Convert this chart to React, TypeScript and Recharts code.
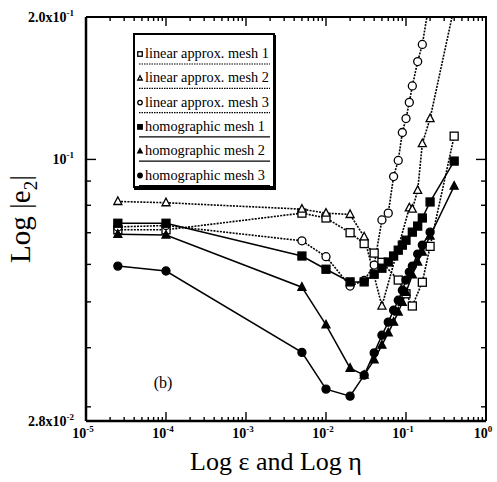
import { Label, Legend, Line, LineChart, XAxis, YAxis } from "recharts";

const W = 497;
const H = 482;

// values (x = epsilon/eta, y = |e2|)
const linear1X = [2.5e-5, 1e-4, 5e-3, 1e-2, 2e-2, 3e-2, 4e-2, 5e-2, 8e-2, 0.1, 0.12, 0.16, 0.2, 0.4];
const linear1Y = [0.071, 0.071, 0.077, 0.0752, 0.07, 0.0664, 0.0634, 0.0606, 0.0556, 0.052, 0.049, 0.055, 0.0655, 0.112];

const linear2X = [2.5e-5, 1e-4, 5e-3, 1e-2, 2e-2, 3e-2, 5e-2, 0.11, 0.12, 0.14, 0.16, 0.2, 0.4];
const linear2Y = [0.0815, 0.081, 0.0785, 0.077, 0.0765, 0.0686, 0.049, 0.079, 0.0785, 0.086, 0.108, 0.122, 0.21];

const linear3X = [2.5e-5, 1e-4, 5e-3, 1e-2, 2e-2, 3e-2, 4e-2, 5e-2, 6e-2, 7e-2, 8e-2, 9e-2, 0.1, 0.11, 0.12, 0.14, 0.16, 0.2];
const linear3Y = [0.072, 0.0725, 0.0673, 0.0623, 0.054, 0.0555, 0.0598, 0.0745, 0.077, 0.092, 0.0995, 0.114, 0.122, 0.132, 0.143, 0.161, 0.175, 0.22];

const homog1X = [2.5e-5, 1e-4, 5e-3, 1e-2, 2e-2, 3e-2, 4e-2, 5e-2, 6e-2, 7e-2, 8e-2, 9e-2, 0.1, 0.12, 0.14, 0.16, 0.2, 0.4];
const homog1Y = [0.0733, 0.0733, 0.0625, 0.0586, 0.0551, 0.0551, 0.0572, 0.0589, 0.0607, 0.0625, 0.0643, 0.0659, 0.0675, 0.0702, 0.0723, 0.0752, 0.0813, 0.0992];

const homog2X = [2.5e-5, 1e-4, 5e-3, 1e-2, 2e-2, 3e-2, 4e-2, 5e-2, 6e-2, 7e-2, 8e-2, 9e-2, 0.1, 0.12, 0.14, 0.16, 0.2, 0.4];
const homog2Y = [0.0695, 0.0692, 0.0537, 0.0447, 0.0362, 0.035, 0.0377, 0.0405, 0.043, 0.0453, 0.0476, 0.0499, 0.0524, 0.057, 0.0607, 0.0637, 0.0689, 0.0878];

const homog3X = [2.5e-5, 1e-4, 5e-3, 1e-2, 2e-2, 3e-2, 4e-2, 5e-2, 6e-2, 7e-2, 8e-2, 9e-2, 0.1, 0.11, 0.12, 0.14, 0.16, 0.2];
const homog3Y = [0.0595, 0.0581, 0.0391, 0.0327, 0.0316, 0.035, 0.039, 0.0425, 0.0453, 0.048, 0.0504, 0.0529, 0.0556, 0.0578, 0.0595, 0.0631, 0.0659, 0.0702];

// axis ticks
const decades = [1e-5, 1e-4, 1e-3, 1e-2, 1e-1, 1];
const decadeExps = ["-5", "-4", "-3", "-2", "-1", "0"];
const minorSteps = [2, 3, 4, 5, 6, 7, 8, 9];
const yLabelValues = [0.2, 0.1, 0.028];
const yLabelBases = ["2.0x10", "10", "2.8x10"];
const yLabelExps = ["-1", "-1", "-2"];
const yMinorTicks = [0.03, 0.04, 0.05, 0.06, 0.07, 0.08, 0.09];

const X_DOMAIN = [1e-5, 1];
const Y_DOMAIN = [0.028, 0.2];

const xTicks = decades.flatMap((d, i) =>
  i < decades.length - 1 ? [d, ...minorSteps.map((m) => d * m)] : [d]
);
const yTicks = [...yLabelValues, ...yMinorTicks].sort((a, b) => a - b);

type Shape = "square" | "triangle" | "circle";

interface Series {
  name: string;
  xs: number[];
  ys: number[];
  shape: Shape;
  filled: boolean;
  dashed: boolean;
}

const series: Series[] = [
  { name: "linear approx. mesh 1", xs: linear1X, ys: linear1Y, shape: "square", filled: false, dashed: true },
  { name: "linear approx. mesh 2", xs: linear2X, ys: linear2Y, shape: "triangle", filled: false, dashed: true },
  { name: "linear approx. mesh 3", xs: linear3X, ys: linear3Y, shape: "circle", filled: false, dashed: true },
  { name: "homographic mesh 1", xs: homog1X, ys: homog1Y, shape: "square", filled: true, dashed: false },
  { name: "homographic mesh 2", xs: homog2X, ys: homog2Y, shape: "triangle", filled: true, dashed: false },
  { name: "homographic mesh 3", xs: homog3X, ys: homog3Y, shape: "circle", filled: true, dashed: false },
];

const FONT = "'Liberation Serif', 'Times New Roman', serif";
const DASH = "2 1.2";
const MARGIN = { top: 17, right: 11, bottom: 11, left: 8 };
const Y_AXIS_W = 78;
const X_AXIS_H = 50;
const PLOT = {
  left: MARGIN.left + Y_AXIS_W,
  top: MARGIN.top,
  right: W - MARGIN.right,
  bottom: H - MARGIN.bottom - X_AXIS_H,
};

function Marker({ cx, cy, shape, filled, size }: { cx: number; cy: number; shape: Shape; filled: boolean; size: number }) {
  const fill = filled ? "#000" : "#fff";
  const sw = 1.3;
  if (shape === "square")
    return <rect x={cx - size / 2} y={cy - size / 2} width={size} height={size} fill={fill} stroke="#000" strokeWidth={sw} />;
  if (shape === "circle") return <circle cx={cx} cy={cy} r={size / 2} fill={fill} stroke="#000" strokeWidth={sw} />;
  const h = size * 0.95;
  const pts = `${cx},${cy - h * 0.6} ${cx - size / 2},${cy + h * 0.4} ${cx + size / 2},${cy + h * 0.4}`;
  return <polygon points={pts} fill={fill} stroke="#000" strokeWidth={sw} strokeLinejoin="miter" />;
}

function BottomTick(props: any) {
  const { x, y, payload } = props;
  const v = payload.value;
  const idx = decades.indexOf(v);
  const major = idx >= 0;
  return (
    <g>
      <line x1={x} x2={x} y1={y} y2={y - (major ? 9 : 4)} stroke="#000" strokeWidth={1.4} />
      {major && (
        <text x={x - 3} y={y + 17} textAnchor="middle" fontFamily={FONT} fontSize={14} fontWeight="bold" fill="#000">
          10
          <tspan dy={-6} fontSize={9}>
            {decadeExps[idx]}
          </tspan>
        </text>
      )}
    </g>
  );
}

function LeftTick(props: any) {
  const { x, y, payload } = props;
  const v = payload.value;
  const idx = yLabelValues.indexOf(v);
  const len = v === 0.1 ? 10 : 5;
  return (
    <g>
      {(idx < 0 || v === 0.1) && <line x1={x} x2={x + len} y1={y} y2={y} stroke="#000" strokeWidth={1.4} />}
      {idx >= 0 && (
        <text x={x - 12} y={y + 5} textAnchor="end" fontFamily={FONT} fontSize={14} fontWeight="bold" fill="#000">
          {yLabelBases[idx]}
          <tspan dy={-6} fontSize={9}>
            {yLabelExps[idx]}
          </tspan>
        </text>
      )}
    </g>
  );
}

function XTitle(props: any) {
  const vb = props.viewBox;
  return (
    <g>
      <text x={vb.x + vb.width / 2 - 10} y={470} textAnchor="middle" fontFamily={FONT} fontSize={26} fill="#000">
        Log ε and Log η
      </text>
      <text x={163} y={388} textAnchor="middle" fontFamily={FONT} fontSize={16} fill="#000">
        (b)
      </text>
    </g>
  );
}

function YTitle() {
  return (
    <text x={0} y={0} transform="translate(30,219) rotate(-90)" textAnchor="middle" fontFamily={FONT} fontSize={29} fill="#000">
      Log |e
      <tspan dy={7} fontSize={19}>
        2
      </tspan>
      <tspan dy={-7}>|</tspan>
    </text>
  );
}

// top and right edges of the frame with inward ticks, laid over the chart
function FrameOverlay() {
  const { left, top, right, bottom } = PLOT;
  const lx = (v: number) =>
    left + ((Math.log10(v) - Math.log10(X_DOMAIN[0])) / (Math.log10(X_DOMAIN[1]) - Math.log10(X_DOMAIN[0]))) * (right - left);
  const ly = (v: number) =>
    bottom - ((Math.log10(v) - Math.log10(Y_DOMAIN[0])) / (Math.log10(Y_DOMAIN[1]) - Math.log10(Y_DOMAIN[0]))) * (bottom - top);
  return (
    <svg width={W} height={H} style={{ position: "absolute", left: 0, top: 0, pointerEvents: "none" }}>
      <polyline points={`${left},${top} ${right},${top} ${right},${bottom}`} fill="none" stroke="#000" strokeWidth={2} />
      {xTicks
        .filter((v) => v > X_DOMAIN[0] && v < X_DOMAIN[1])
        .map((v) => (
          <line
            key={`t${v}`}
            x1={lx(v)}
            x2={lx(v)}
            y1={top}
            y2={top + (decades.indexOf(v) >= 0 ? 9 : 4)}
            stroke="#000"
            strokeWidth={1.4}
          />
        ))}
      {[0.1, ...yMinorTicks].map((v) => (
        <line
          key={`r${v}`}
          x1={right}
          x2={right - (v === 0.1 ? 10 : 5)}
          y1={ly(v)}
          y2={ly(v)}
          stroke="#000"
          strokeWidth={1.4}
        />
      ))}
    </svg>
  );
}

function LegendBox() {
  const rowGap = 24.3;
  return (
    <div
      style={{
        width: 142,
        height: 155,
        border: "2px solid #000",
        boxShadow: "1px 2px 0 #000",
        background: "#fff",
        boxSizing: "border-box",
      }}
    >
      <svg width={138} height={151} style={{ display: "block" }}>
        {series.map((s, i) => {
          const cy = 18 + i * rowGap;
          return (
            <g key={s.name}>
              <Marker cx={5} cy={cy + 1} shape={s.shape} filled={s.filled} size={4.5} />
              <text x={10} y={cy + 5} fontFamily={FONT} fontSize={14.3} fill="#000">
                {s.name}
              </text>
              <line
                x1={4}
                x2={135}
                y1={cy + 11}
                y2={cy + 11}
                stroke="#000"
                strokeWidth={1.2}
                strokeDasharray={s.dashed ? "1.5 1" : undefined}
              />
            </g>
          );
        })}
      </svg>
    </div>
  );
}

export default function App() {
  return (
    <div style={{ position: "absolute", left: 0, top: 0, width: W, height: H, background: "#fff" }}>
      <LineChart width={W} height={H} margin={MARGIN}>
        <XAxis
          xAxisId="b"
          type="number"
          dataKey="x"
          scale="log"
          domain={X_DOMAIN}
          allowDataOverflow
          ticks={xTicks}
          interval={0}
          tickSize={0}
          tickMargin={0}
          tickLine={false}
          tick={BottomTick}
          axisLine={{ stroke: "#000", strokeWidth: 2.5 }}
          height={X_AXIS_H}
        >
          <Label content={XTitle} />
        </XAxis>
        <YAxis
          yAxisId="l"
          type="number"
          scale="log"
          domain={Y_DOMAIN}
          allowDataOverflow
          ticks={yTicks}
          interval={0}
          tickSize={0}
          tickMargin={0}
          tickLine={false}
          tick={LeftTick}
          axisLine={{ stroke: "#000", strokeWidth: 2.5 }}
          width={Y_AXIS_W}
        >
          <Label content={YTitle} />
        </YAxis>
        <Legend
          layout="horizontal"
          verticalAlign="middle"
          align="center"
          wrapperStyle={{ left: 133, top: 33, width: 142 }}
          content={() => <LegendBox />}
        />
        {series.map((s) => (
          <Line
            key={s.name}
            name={s.name}
            xAxisId="b"
            yAxisId="l"
            data={s.xs.map((x, i) => ({ x, y: s.ys[i] }))}
            dataKey="y"
            type="linear"
            stroke="#000"
            strokeWidth={s.dashed ? 1.6 : 1.5}
            strokeDasharray={s.dashed ? DASH : undefined}
            isAnimationActive={false}
            dot={(p: any) =>
              p.cy < PLOT.top - 1 ? (
                <g key={`${s.name}-${p.index}`} />
              ) : (
                <g key={`${s.name}-${p.index}`}>
                  <Marker cx={p.cx} cy={p.cy} shape={s.shape} filled={s.filled} size={8} />
                </g>
              )
            }
            activeDot={false}
          />
        ))}
      </LineChart>
      <FrameOverlay />
    </div>
  );
}
